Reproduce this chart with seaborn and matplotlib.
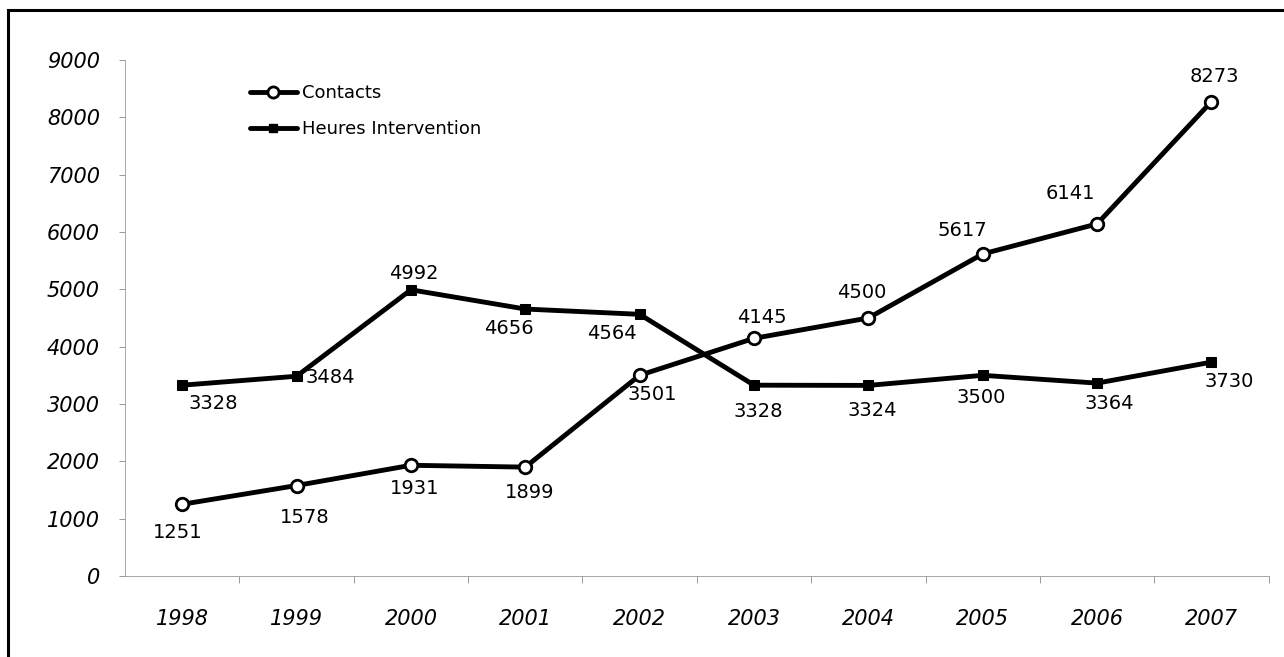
import pandas as pd
import seaborn as sns
import matplotlib.pyplot as plt
from matplotlib.lines import Line2D

# chart values
years = ["1998", "1999", "2000", "2001", "2002", "2003", "2004", "2005", "2006", "2007"]
contacts = [1251, 1578, 1931, 1899, 3501, 4145, 4500, 5617, 6141, 8273]
heures = [3328, 3484, 4992, 4656, 4564, 3328, 3324, 3500, 3364, 3730]

df = pd.DataFrame({"Annee": years, "Contacts": contacts, "Heures Intervention": heures})
df["pos"] = range(len(years))

sns.set_style("white")
plt.rcParams['font.family'] = ['DejaVu Sans']
plt.rcParams['text.color'] = 'black'
plt.rcParams['xtick.color'] = 'black'
plt.rcParams['ytick.color'] = 'black'

fig = plt.figure(figsize=(12.84, 6.57), dpi=100)
ax = fig.add_axes([0.0974, 0.1233, 0.8906, 0.7854])

sns.lineplot(data=df, x="pos", y="Contacts", ax=ax, color="black", linewidth=3.5,
             marker="o", markersize=9, markerfacecolor="white", markeredgecolor="black",
             markeredgewidth=2)
sns.lineplot(data=df, x="pos", y="Heures Intervention", ax=ax, color="black", linewidth=3.5,
             marker="s", markersize=7, markerfacecolor="black", markeredgecolor="black")

# label offsets (points) for each data label
off_c = [(-3, -20), (6, -23), (3, -17), (3, -18), (9, -14), (6, 15), (-5, 18), (-15, 17), (-19, 22), (2, 18)]
off_h = [(22, -13), (24, -1), (2, 12), (-12, -14), (-20, -14), (3, -19), (3, -18), (-1, -16), (9, -15), (13, -14)]
for i in range(len(years)):
    ax.annotate(str(contacts[i]), (i, contacts[i]), xytext=off_c[i], textcoords="offset points",
                ha="center", va="center", fontsize=14, color="black")
    ax.annotate(str(heures[i]), (i, heures[i]), xytext=off_h[i], textcoords="offset points",
                ha="center", va="center", fontsize=14, color="black")

ax.set_xlim(-0.5, 9.5)
ax.set_ylim(0, 9000)
ax.set_yticks(range(0, 9001, 1000))
ax.set_xticks(range(len(years)))
ax.set_xticks([i + 0.5 for i in range(len(years))], minor=True)
ax.set_xticklabels(years, fontsize=15, style="italic")
ax.set_yticklabels([str(v) for v in range(0, 9001, 1000)], fontsize=15, style="italic")
ax.set_xlabel("")
ax.set_ylabel("")
ax.tick_params(axis="y", length=4, width=0.6, color="#888888", pad=14, left=True)
ax.tick_params(axis="x", which="major", length=0, pad=24)
ax.tick_params(axis="x", which="minor", length=5, width=0.6, color="#888888", bottom=True)

for side in ["top", "right"]:
    ax.spines[side].set_visible(False)
ax.spines["left"].set_color("#999999")
ax.spines["left"].set_linewidth(0.6)
ax.spines["bottom"].set_color("#999999")
ax.spines["bottom"].set_linewidth(0.6)
ax.spines["bottom"].set_linestyle((0, (6, 1)))

handles = [
    Line2D([], [], color="black", linewidth=3.5, marker="o", markersize=8,
           markerfacecolor="white", markeredgecolor="black", markeredgewidth=2),
    Line2D([], [], color="black", linewidth=3.5, marker="s", markersize=6,
           markerfacecolor="black"),
]
leg = ax.legend(handles, ["Contacts", "Heures Intervention"], loc="upper left",
                bbox_to_anchor=(0.095, 0.985), frameon=False, fontsize=13,
                handlelength=2.6, handletextpad=0.3, labelspacing=1.0)

# outer frame of the chart area
frame = plt.Rectangle((8 / 1284, -0.02), 1.0, 1 - 10 / 657 + 0.02,
                      transform=fig.transFigure, fill=False, edgecolor="black", linewidth=2.2)
fig.add_artist(frame)

fig.savefig("out.png", dpi=100)
